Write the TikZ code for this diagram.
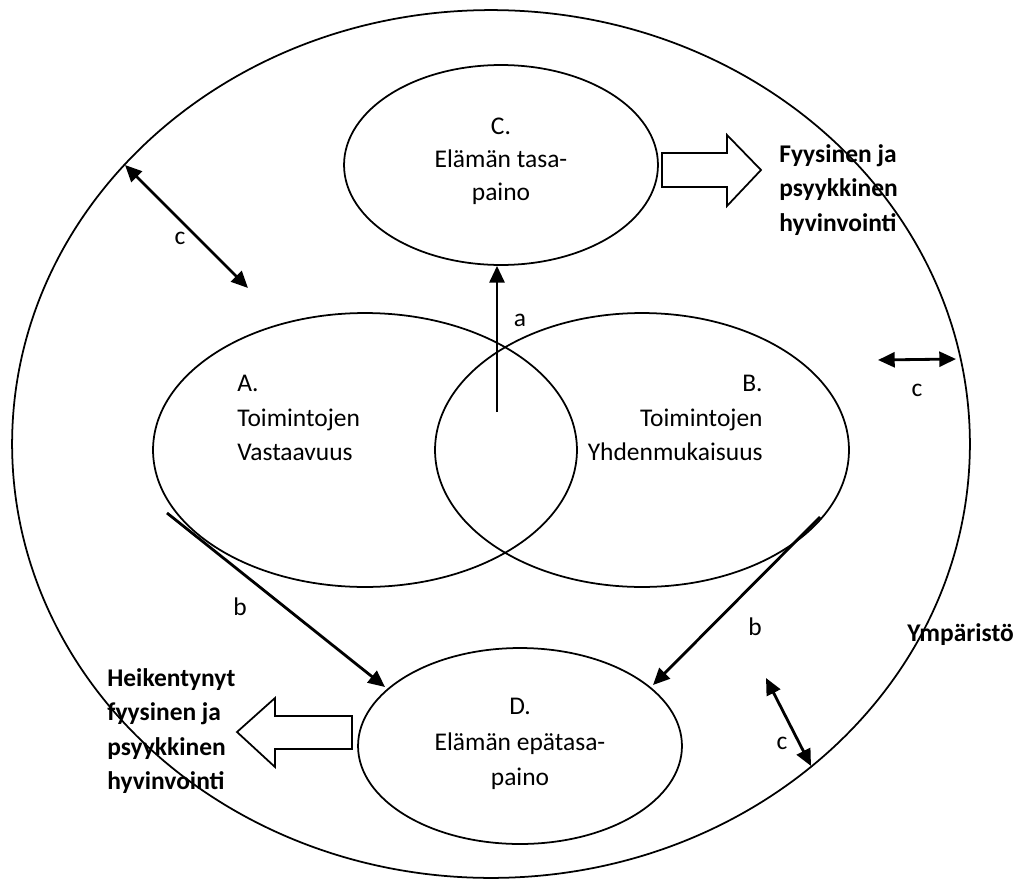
\documentclass[tikz,border=0pt]{standalone}
\usepackage{fontspec}
\setmainfont{Carlito}
\usetikzlibrary{arrows.meta}
\usetikzlibrary{shapes.geometric}
\usetikzlibrary{calc}

\tikzset{
	oval/.style={draw, ellipse, line width=1pt, inner sep=0pt},
	link/.style={line width=1.6pt, -{Triangle[length=9.5pt,width=8.5pt]}},
	twoway/.style={line width=1.6pt, {Triangle[length=9.5pt,width=8.5pt]}-{Triangle[length=9.5pt,width=8.5pt]}},
	txt/.style={inner sep=0pt, font=\fontsize{14.5}{19.8}\selectfont},
	boldtxt/.style={inner sep=0pt, align=left, font=\fontsize{14.5}{19.6}\selectfont\bfseries},
	fat/.style={draw, fill=white, line width=1pt, line join=miter}
}

\begin{document}
\begin{tikzpicture}[x=0.02cm, y=-0.02cm]
	\useasboundingbox (0,0) rectangle (1024,879);

	% draw the surroundings and the four areas
	\node[oval, minimum width=19.16cm, minimum height=17.36cm] (env) at (491,444) {};
	\node[oval, minimum width=6.28cm, minimum height=4.0cm] (C) at (501,165) {};
	\node[oval, minimum width=8.48cm, minimum height=5.48cm] (A) at (365,450) {};
	\node[oval, minimum width=8.28cm, minimum height=5.48cm] (B) at (642,450) {};
	\node[oval, minimum width=6.48cm, minimum height=3.92cm] (D) at (520,746) {};

	% texts inside the areas
	\node[txt, align=center, font=\fontsize{14.5}{18.7}\selectfont] (Ctxt) at (501,161) {C.\\Elämän tasa-\\paino};
	\node[txt, align=left, anchor=west] (Atxt) at (237,418) {A.\\Toimintojen\\Vastaavuus};
	\node[txt, align=right, anchor=east] (Btxt) at (763,418) {B.\\Toimintojen\\Yhdenmukaisuus};
	\node[txt, align=center, font=\fontsize{14.5}{20.4}\selectfont] (Dtxt) at (520,744) {D.\\Elämän epätasa-\\paino};

	% outcomes
	\node[boldtxt, anchor=west] (good) at (779,190) {Fyysinen ja\\psyykkinen\\hyvinvointi};
	\node[boldtxt, anchor=west] (bad) at (107,731) {Heikentynyt\\fyysinen ja\\psyykkinen\\hyvinvointi};
	\node[boldtxt, anchor=west] (ymp) at (907,635) {Ympäristö};

	% block arrows
	\draw[fat] (662,153) -- (727,153) -- (727,135) -- (761,170) -- (727,206) -- (727,187) -- (662,187) -- cycle;
	\draw[fat] (352,716) -- (275,716) -- (275,698) -- (237,732) -- (275,767) -- (275,749) -- (352,749) -- cycle;

	% arrow a from the overlap up to C
	\coordinate (a0) at (497,412);
	\draw[link] (a0) -- (a0 |- C.south);
	\node[txt] (la) at (520,320) {a};

	% arrows b down to D
	\coordinate (bA) at (167,513);
	\coordinate (bAend) at (385,687);
	\coordinate (bB) at (820,517);
	\coordinate (bBend) at (653,685);
	\draw[link] (bA) -- (bAend);
	\draw[link] (bB) -- (bBend);
	\node[txt] (lb1) at (240,607) {b};
	\node[txt] (lb2) at (755,627) {b};

	% arrows c with the surroundings
	\coordinate (c1) at (125,165);
	\coordinate (c1end) at (248,288);
	\coordinate (c2) at (878,360);
	\coordinate (c2end) at (956,359);
	\coordinate (c3) at (766,678);
	\coordinate (c3end) at (811,766);
	\draw[twoway] (c1) -- (c1end);
	\draw[twoway] (c2) -- (c2end);
	\draw[twoway] (c3) -- (c3end);
	\node[txt] (lc1) at (180,238) {c};
	\node[txt] (lc2) at (917,390) {c};
	\node[txt] (lc3) at (782,743) {c};
\end{tikzpicture}
\end{document}
